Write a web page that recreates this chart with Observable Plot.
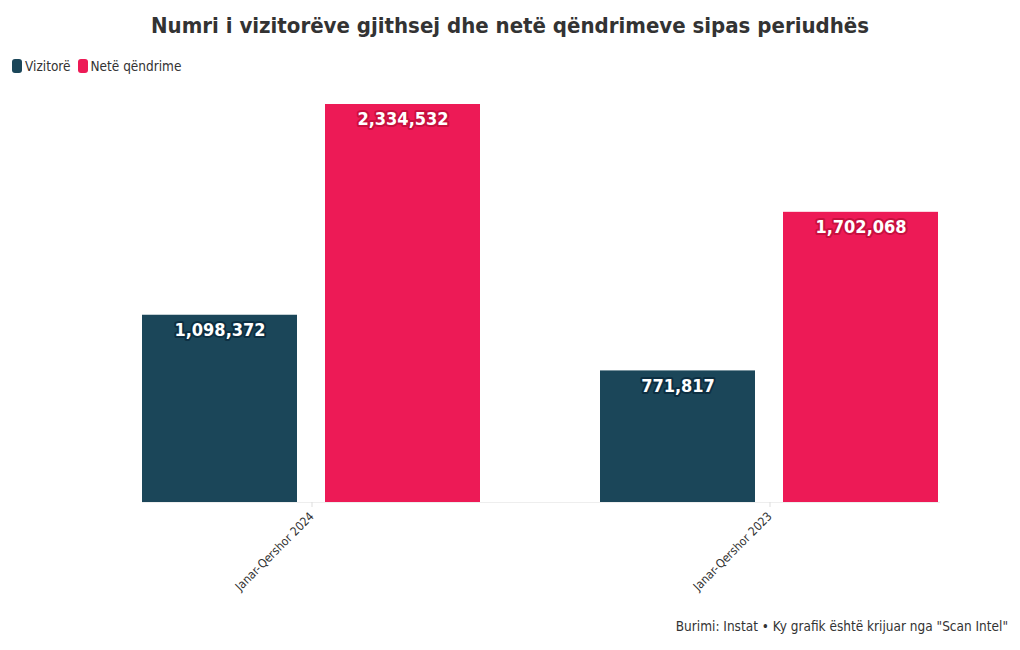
<!DOCTYPE html>
<html>
<head>
<meta charset="utf-8">
<script src="https://cdn.jsdelivr.net/npm/d3@7"></script>
<script src="https://cdn.jsdelivr.net/npm/@observablehq/plot@0.6"></script>
<style>
  body { margin: 0; background: #fff; width: 1020px; height: 650px; overflow: hidden; font-family: "DejaVu Sans Condensed", "DejaVu Sans", sans-serif; font-stretch: condensed; }
  #title { height: 52px; line-height: 52px; text-align: center; font-size: 22px; font-weight: bold; color: #333; }
  #legend { height: 28px; display: flex; align-items: center; padding-left: 12px; font-size: 13.5px; color: #333; }
  .sw { display: inline-block; width: 10px; height: 14px; border-radius: 3px; margin-right: 3px; }
  .item { display: flex; align-items: center; margin-right: 7px; }
  #caption { text-align: right; padding-right: 12px; font-size: 13.5px; color: #333; margin-top: 8px; }
  svg { display: block; }
</style>
</head>
<body>
<div id="title">Numri i vizitorëve gjithsej dhe netë qëndrimeve sipas periudhës</div>
<div id="legend"></div>
<div id="chart"></div>
<div id="caption">Burimi: Instat • Ky grafik është krijuar nga "Scan Intel"</div>
<script>
const periods = ["Janar-Qershor 2024", "Janar-Qershor 2023"];
const series = ["Vizitorë", "Netë qëndrime"];
const visitors = [1098372, 771817];
const nights = [2334532, 1702068];
const colors = ["#1b4659", "#ed1a56"];
const haloColors = ["#0d2f42", "#c8103f"];

const data = [];
periods.forEach((p, i) => {
  data.push({period: p, series: series[0], value: visitors[i]});
  data.push({period: p, series: series[1], value: nights[i]});
});

const legend = document.getElementById("legend");
series.forEach((s, i) => {
  const it = document.createElement("span");
  it.className = "item";
  it.innerHTML = `<span class="sw" style="background:${colors[i]}"></span>${s}`;
  legend.appendChild(it);
});

const fmt = d3.format(",");
const chart = Plot.plot({
  width: 1020,
  height: 530,
  marginLeft: 82,
  marginRight: 22,
  marginTop: 24,
  marginBottom: 108,
  style: {fontFamily: "'DejaVu Sans Condensed', 'DejaVu Sans', sans-serif", fontStretch: "condensed", fontSize: "12px", color: "#333"},
  fx: {domain: periods, paddingInner: 0.26, paddingOuter: 0.13, label: null},
  x: {domain: series, paddingInner: 0.153, paddingOuter: 0, axis: null},
  y: {domain: [0, d3.max(nights)], axis: null},
  color: {domain: series, range: colors},
  marks: [
    Plot.frame({anchor: "bottom", stroke: "#eeeeee", facet: "super"}),
    Plot.barY(data, {fx: "period", x: "series", y: "value", fill: "series"}),
    Plot.axisFx({anchor: "bottom", tickRotate: -45, tickSize: 5, stroke: "#ddd", fontSize: 12, fill: "#333", label: null}),
    Plot.text(data, {
      fx: "period", x: "series", y: "value",
      text: d => fmt(d.value),
      dy: 15,
      fill: "white",
      stroke: d => haloColors[series.indexOf(d.series)],
      strokeWidth: 4,
      paintOrder: "stroke",
      fontSize: 18,
      fontWeight: "bold"
    })
  ]
});
document.getElementById("chart").appendChild(chart);
</script>
</body>
</html>
